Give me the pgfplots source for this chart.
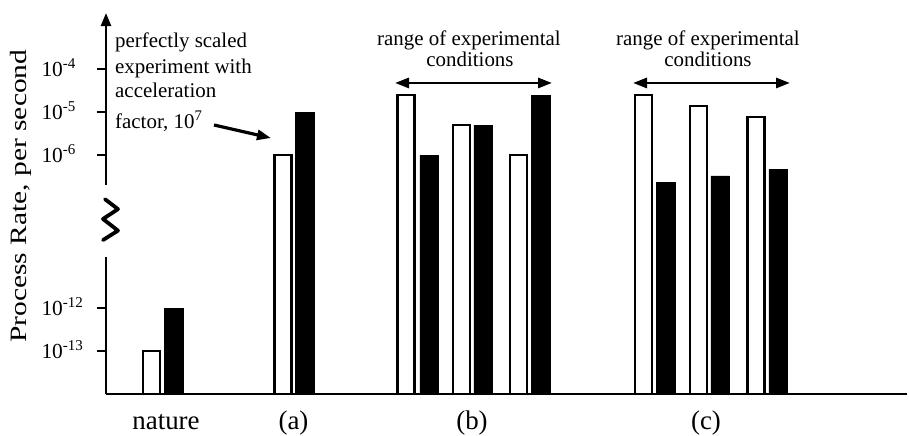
\documentclass[border=0pt]{standalone}
\usepackage{pgfplots}
\pgfplotsset{compat=1.18}
\usepackage{pgfplotstable}
\usepackage{fontspec}
\setmainfont{Liberation Serif}
\usepackage{graphicx}
\usetikzlibrary{arrows.meta}

% x = bar centre position, e = log10 of process rate (per second)
\pgfplotstableread{
x e
151.5 -13
283 -6
406 -4.6
461.5 -5.3
518.5 -6
643.5 -4.6
698.5 -4.85
756 -5.1
}\whitebars
\pgfplotstableread{
x e
173.5 -12
304.5 -5
429 -6
483 -5.3
540.5 -4.6
665.5 -6.62
720 -6.48
778 -6.32
}\blackbars

\newcommand{\annfont}{\fontsize{21}{25}\selectfont}

\begin{document}
\begin{tikzpicture}
\begin{axis}[
  x=1bp, y=43bp,
  xmin=106, xmax=907, ymin=0, ymax=8.86,
  axis x line=bottom, axis y line=left,
  x axis line style={-, line width=2.4bp},
  y axis line style={draw=none},
  clip=false,
  ybar, bar shift=0pt,
  xtick={166,293.5,472,706},
  xticklabels={nature,(a),(b),(c)},
  x tick label style={font=\fontsize{27}{30}\selectfont, anchor=base, yshift=-26bp},
  xtick style={draw=none},
  ytick={1,2,5.55,6.55,7.55},
  yticklabels={10\textsuperscript{-13},10\textsuperscript{-12},10\textsuperscript{-6},10\textsuperscript{-5},10\textsuperscript{-4}},
  y tick label style={font=\fontsize{21.5}{24}\selectfont, anchor=base west, xshift=-59bp, yshift=-7bp},
  tick align=outside,
  major tick length=9bp,
  ytick style={line width=2bp, black},
]
\addplot[fill=white, draw=black, line width=2.2bp, bar width=17]
  table[x=x, y expr={\thisrow{e} < -9 ? \thisrow{e}+14 : \thisrow{e}+11.55}] {\whitebars};
\addplot[fill=black, draw=black, line width=0.5bp, bar width=18.5]
  table[x=x, y expr={\thisrow{e} < -9 ? \thisrow{e}+14 : \thisrow{e}+11.55}] {\blackbars};

% broken y axis
\draw[line width=2.4bp] (axis cs:106,0) -- (axis cs:106,3.19);
\draw[line width=2.4bp, -{Triangle[length=13bp,width=10bp]}] (axis cs:106,4.86) -- (axis cs:106,8.86);
\draw[line width=3.8bp, line join=round, line cap=round]
  (axis cs:105,4.53) -- (axis cs:118,4.30) -- (axis cs:103,4.07) -- (axis cs:118,3.80) -- (axis cs:103,3.58);

% y label
\node[rotate=90, anchor=base] at (axis cs:27,4.60)
  {\scalebox{1.26}[1]{\fontsize{23.5}{26}\selectfont Process Rate, per second}};

% annotation
\node[anchor=base west, inner sep=0pt, font=\annfont] at (axis cs:115,8.0465) {perfectly scaled};
\node[anchor=base west, inner sep=0pt, font=\annfont] at (axis cs:115,7.465) {experiment with};
\node[anchor=base west, inner sep=0pt, font=\annfont] at (axis cs:115,6.884) {acceleration};
\node[anchor=base west, inner sep=0pt, font=\annfont] at (axis cs:115,6.186) {factor, 10\textsuperscript{7}};
\draw[line width=3.2bp, -{Triangle[length=14bp,width=10bp]}] (axis cs:214,6.256) -- (axis cs:271,5.953);

% ranges
\node[anchor=base, inner sep=0pt, font=\annfont] at (axis cs:469,8.116) {range of experimental};
\node[anchor=base, inner sep=0pt, font=\annfont] at (axis cs:470,7.605) {conditions};
\draw[line width=2.8bp, {Triangle[length=14bp,width=10bp]}-{Triangle[length=14bp,width=10bp]}] (axis cs:395,7.233) -- (axis cs:552,7.233);
\node[anchor=base, inner sep=0pt, font=\annfont] at (axis cs:708,8.116) {range of experimental};
\node[anchor=base, inner sep=0pt, font=\annfont] at (axis cs:708,7.605) {conditions};
\draw[line width=2.8bp, {Triangle[length=14bp,width=10bp]}-{Triangle[length=14bp,width=10bp]}] (axis cs:633,7.233) -- (axis cs:790,7.233);

\coordinate (BL) at (axis cs:0,-0.9535);
\coordinate (TR) at (axis cs:909,9.1628);
\end{axis}
\pgfresetboundingbox
\useasboundingbox (BL) rectangle (TR);
\end{tikzpicture}
\end{document}
